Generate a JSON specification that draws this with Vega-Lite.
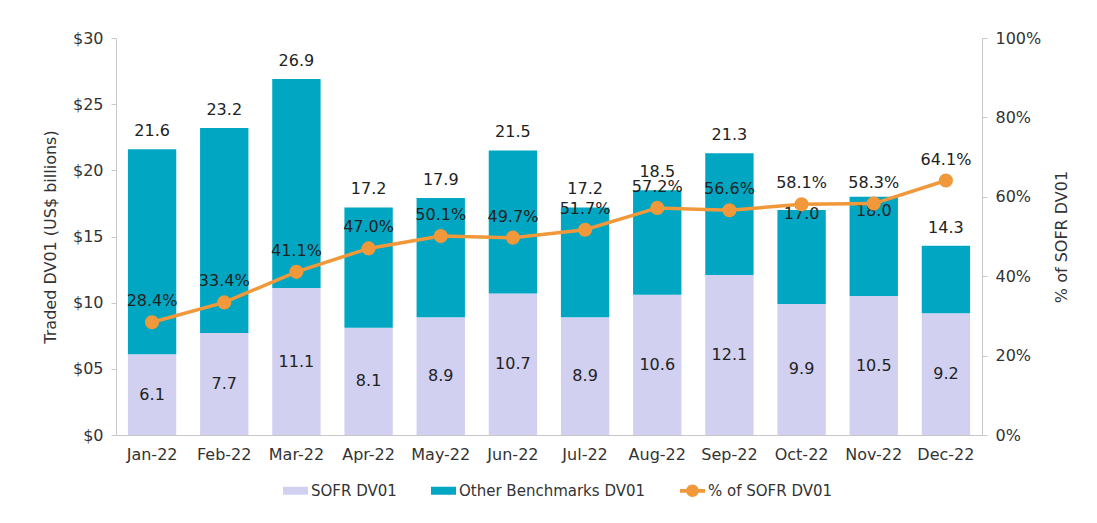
{
  "$schema": "https://vega.github.io/schema/vega-lite/v6.json",
  "width": 866,
  "height": 397,
  "autosize": {"type": "none"},
  "padding": {"left": 116, "top": 38, "right": 115, "bottom": 88},
  "background": "white",
  "config": {
    "view": {"stroke": null},
    "font": "DejaVu Sans",
    "axis": {
      "labelFont": "DejaVu Sans",
      "labelFontSize": 16,
      "labelColor": "#333333",
      "titleFont": "DejaVu Sans",
      "titleFontSize": 16,
      "titleFontWeight": "normal",
      "titleColor": "#333333",
      "domainColor": "#c8c8c8",
      "tickColor": "#c8c8c8",
      "grid": false
    },
    "axisX": {"labelAngle": 0, "ticks": false, "labelPadding": 11},
    "axisLeft": {"tickSize": 5, "labelPadding": 8, "titlePadding": 14},
    "axisRight": {"tickSize": 5, "labelPadding": 8, "titlePadding": 29, "titleAngle": 270},
    "legend": {
      "labelFont": "DejaVu Sans",
      "labelFontSize": 15,
      "labelColor": "#333333",
      "labelLimit": 400
    }
  },
  "data": {
    "values": [
      {"month": "Jan-22", "sofr": 6.1, "other": 15.5, "total": 21.6, "pct": 0.284},
      {"month": "Feb-22", "sofr": 7.7, "other": 15.5, "total": 23.2, "pct": 0.334},
      {"month": "Mar-22", "sofr": 11.1, "other": 15.8, "total": 26.9, "pct": 0.411},
      {"month": "Apr-22", "sofr": 8.1, "other": 9.1, "total": 17.2, "pct": 0.470},
      {"month": "May-22", "sofr": 8.9, "other": 9.0, "total": 17.9, "pct": 0.501},
      {"month": "Jun-22", "sofr": 10.7, "other": 10.8, "total": 21.5, "pct": 0.497},
      {"month": "Jul-22", "sofr": 8.9, "other": 8.3, "total": 17.2, "pct": 0.517},
      {"month": "Aug-22", "sofr": 10.6, "other": 7.9, "total": 18.5, "pct": 0.572},
      {"month": "Sep-22", "sofr": 12.1, "other": 9.2, "total": 21.3, "pct": 0.566},
      {"month": "Oct-22", "sofr": 9.9, "other": 7.1, "total": 17.0, "pct": 0.581},
      {"month": "Nov-22", "sofr": 10.5, "other": 7.5, "total": 18.0, "pct": 0.583},
      {"month": "Dec-22", "sofr": 9.2, "other": 5.1, "total": 14.3, "pct": 0.641}
    ]
  },
  "resolve": {"scale": {"y": "independent"}},
  "layer": [
    {
      "layer": [
        {
          "transform": [{"fold": ["sofr", "other"], "as": ["series", "value"]}],
          "mark": {"type": "bar"},
          "encoding": {
            "x": {
              "field": "month", "type": "ordinal", "sort": null, "title": null,
              "scale": {"paddingInner": 0.33, "paddingOuter": 0.165}
            },
            "y": {
              "field": "value", "type": "quantitative", "stack": "zero",
              "title": "Traded DV01 (US$ billions)",
              "scale": {"domain": [0, 30], "nice": false},
              "axis": {
                "orient": "left",
                "values": [0, 5, 10, 15, 20, 25, 30],
                "labelExpr": "datum.value == 0 ? '$0' : (datum.value < 10 ? '$0' + datum.value : '$' + datum.value)"
              }
            },
            "color": {
              "field": "series", "type": "nominal",
              "scale": {"domain": ["sofr", "other", "pct"], "range": ["#d1d0f0", "#00a6c2", "#f0983a"]},
              "legend": {
                "title": null,
                "orient": "none",
                "direction": "horizontal",
                "legendX": 167,
                "legendY": 440,
                "padding": 0,
                "symbolSize": 625,
                "labelOffset": 3,
                "columnPadding": 34,
                "labelExpr": "datum.value == 'sofr' ? 'SOFR DV01' : (datum.value == 'other' ? 'Other Benchmarks DV01' : '% of SOFR DV01')",
                "encode": {
                  "symbols": {
                    "update": {
                      "shape": {"signal": "datum.value == 'pct' ? 'M-1,-0.15H1V0.15H-1Z M0.5,0A0.5,0.5 0 1,1 -0.5,0A0.5,0.5 0 1,1 0.5,0Z' : 'M-1,-0.32H1V0.32H-1Z'"},
                      "fill": {"signal": "scale('color', datum.value)"},
                      "strokeWidth": {"value": 0},
                      "opacity": {"value": 1},
                      "fillOpacity": {"value": 1}
                    }
                  }
                }
              }
            },
            "order": {"field": "series", "sort": "descending"}
          }
        },
        {
          "transform": [{"filter": "datum.month != 'Oct-22' && datum.month != 'Nov-22'"}],
          "mark": {"type": "text", "dy": -18, "fontSize": 16, "color": "#222222", "baseline": "middle"},
          "encoding": {
            "x": {"field": "month", "type": "ordinal", "sort": null, "title": null},
            "y": {
              "field": "total", "type": "quantitative", "title": "Traded DV01 (US$ billions)",
              "axis": {
                "orient": "left",
                "values": [0, 5, 10, 15, 20, 25, 30],
                "labelExpr": "datum.value == 0 ? '$0' : (datum.value < 10 ? '$0' + datum.value : '$' + datum.value)"
              }
            },
            "text": {"field": "total", "type": "quantitative", "format": ".1f"}
          }
        },
        {
          "transform": [{"filter": "datum.month == 'Oct-22'"}],
          "mark": {"type": "text", "dy": 4, "fontSize": 16, "color": "#222222", "baseline": "middle"},
          "encoding": {
            "x": {"field": "month", "type": "ordinal", "sort": null, "title": null},
            "y": {
              "field": "total", "type": "quantitative", "title": "Traded DV01 (US$ billions)",
              "axis": {
                "orient": "left",
                "values": [0, 5, 10, 15, 20, 25, 30],
                "labelExpr": "datum.value == 0 ? '$0' : (datum.value < 10 ? '$0' + datum.value : '$' + datum.value)"
              }
            },
            "text": {"field": "total", "type": "quantitative", "format": ".1f"}
          }
        },
        {
          "transform": [{"filter": "datum.month == 'Nov-22'"}],
          "mark": {"type": "text", "dy": 14, "fontSize": 16, "color": "#222222", "baseline": "middle"},
          "encoding": {
            "x": {"field": "month", "type": "ordinal", "sort": null, "title": null},
            "y": {
              "field": "total", "type": "quantitative", "title": "Traded DV01 (US$ billions)",
              "axis": {
                "orient": "left",
                "values": [0, 5, 10, 15, 20, 25, 30],
                "labelExpr": "datum.value == 0 ? '$0' : (datum.value < 10 ? '$0' + datum.value : '$' + datum.value)"
              }
            },
            "text": {"field": "total", "type": "quantitative", "format": ".1f"}
          }
        }
      ]
    },
    {
      "mark": {"type": "text", "fontSize": 16, "color": "#222222", "baseline": "middle"},
      "encoding": {
        "x": {"field": "month", "type": "ordinal", "sort": null, "title": null},
        "y": {
          "field": "sofr", "type": "quantitative", "title": null,
          "scale": {"domain": [0, 60], "nice": false},
          "axis": {"orient": "left", "labels": false, "ticks": false, "domain": false, "grid": false, "title": null}
        },
        "text": {"field": "sofr", "type": "quantitative", "format": ".1f"}
      }
    },
    {
      "layer": [
        {
          "mark": {"type": "line", "strokeWidth": 3.5, "point": {"filled": true, "size": 200, "opacity": 1}},
          "encoding": {
            "x": {"field": "month", "type": "ordinal", "sort": null, "title": null},
            "y": {
              "field": "pct", "type": "quantitative", "title": "% of SOFR DV01",
              "scale": {"domain": [0, 1], "nice": false},
              "axis": {"orient": "right", "values": [0, 0.2, 0.4, 0.6, 0.8, 1], "format": ".0%"}
            },
            "color": {"datum": "pct", "type": "nominal"}
          }
        },
        {
          "mark": {"type": "text", "dy": -21, "fontSize": 16, "color": "#222222", "baseline": "middle"},
          "encoding": {
            "x": {"field": "month", "type": "ordinal", "sort": null, "title": null},
            "y": {
              "field": "pct", "type": "quantitative", "title": "% of SOFR DV01",
              "axis": {"orient": "right", "values": [0, 0.2, 0.4, 0.6, 0.8, 1], "format": ".0%"}
            },
            "text": {"field": "pct", "type": "quantitative", "format": ".1%"}
          }
        }
      ]
    }
  ]
}
